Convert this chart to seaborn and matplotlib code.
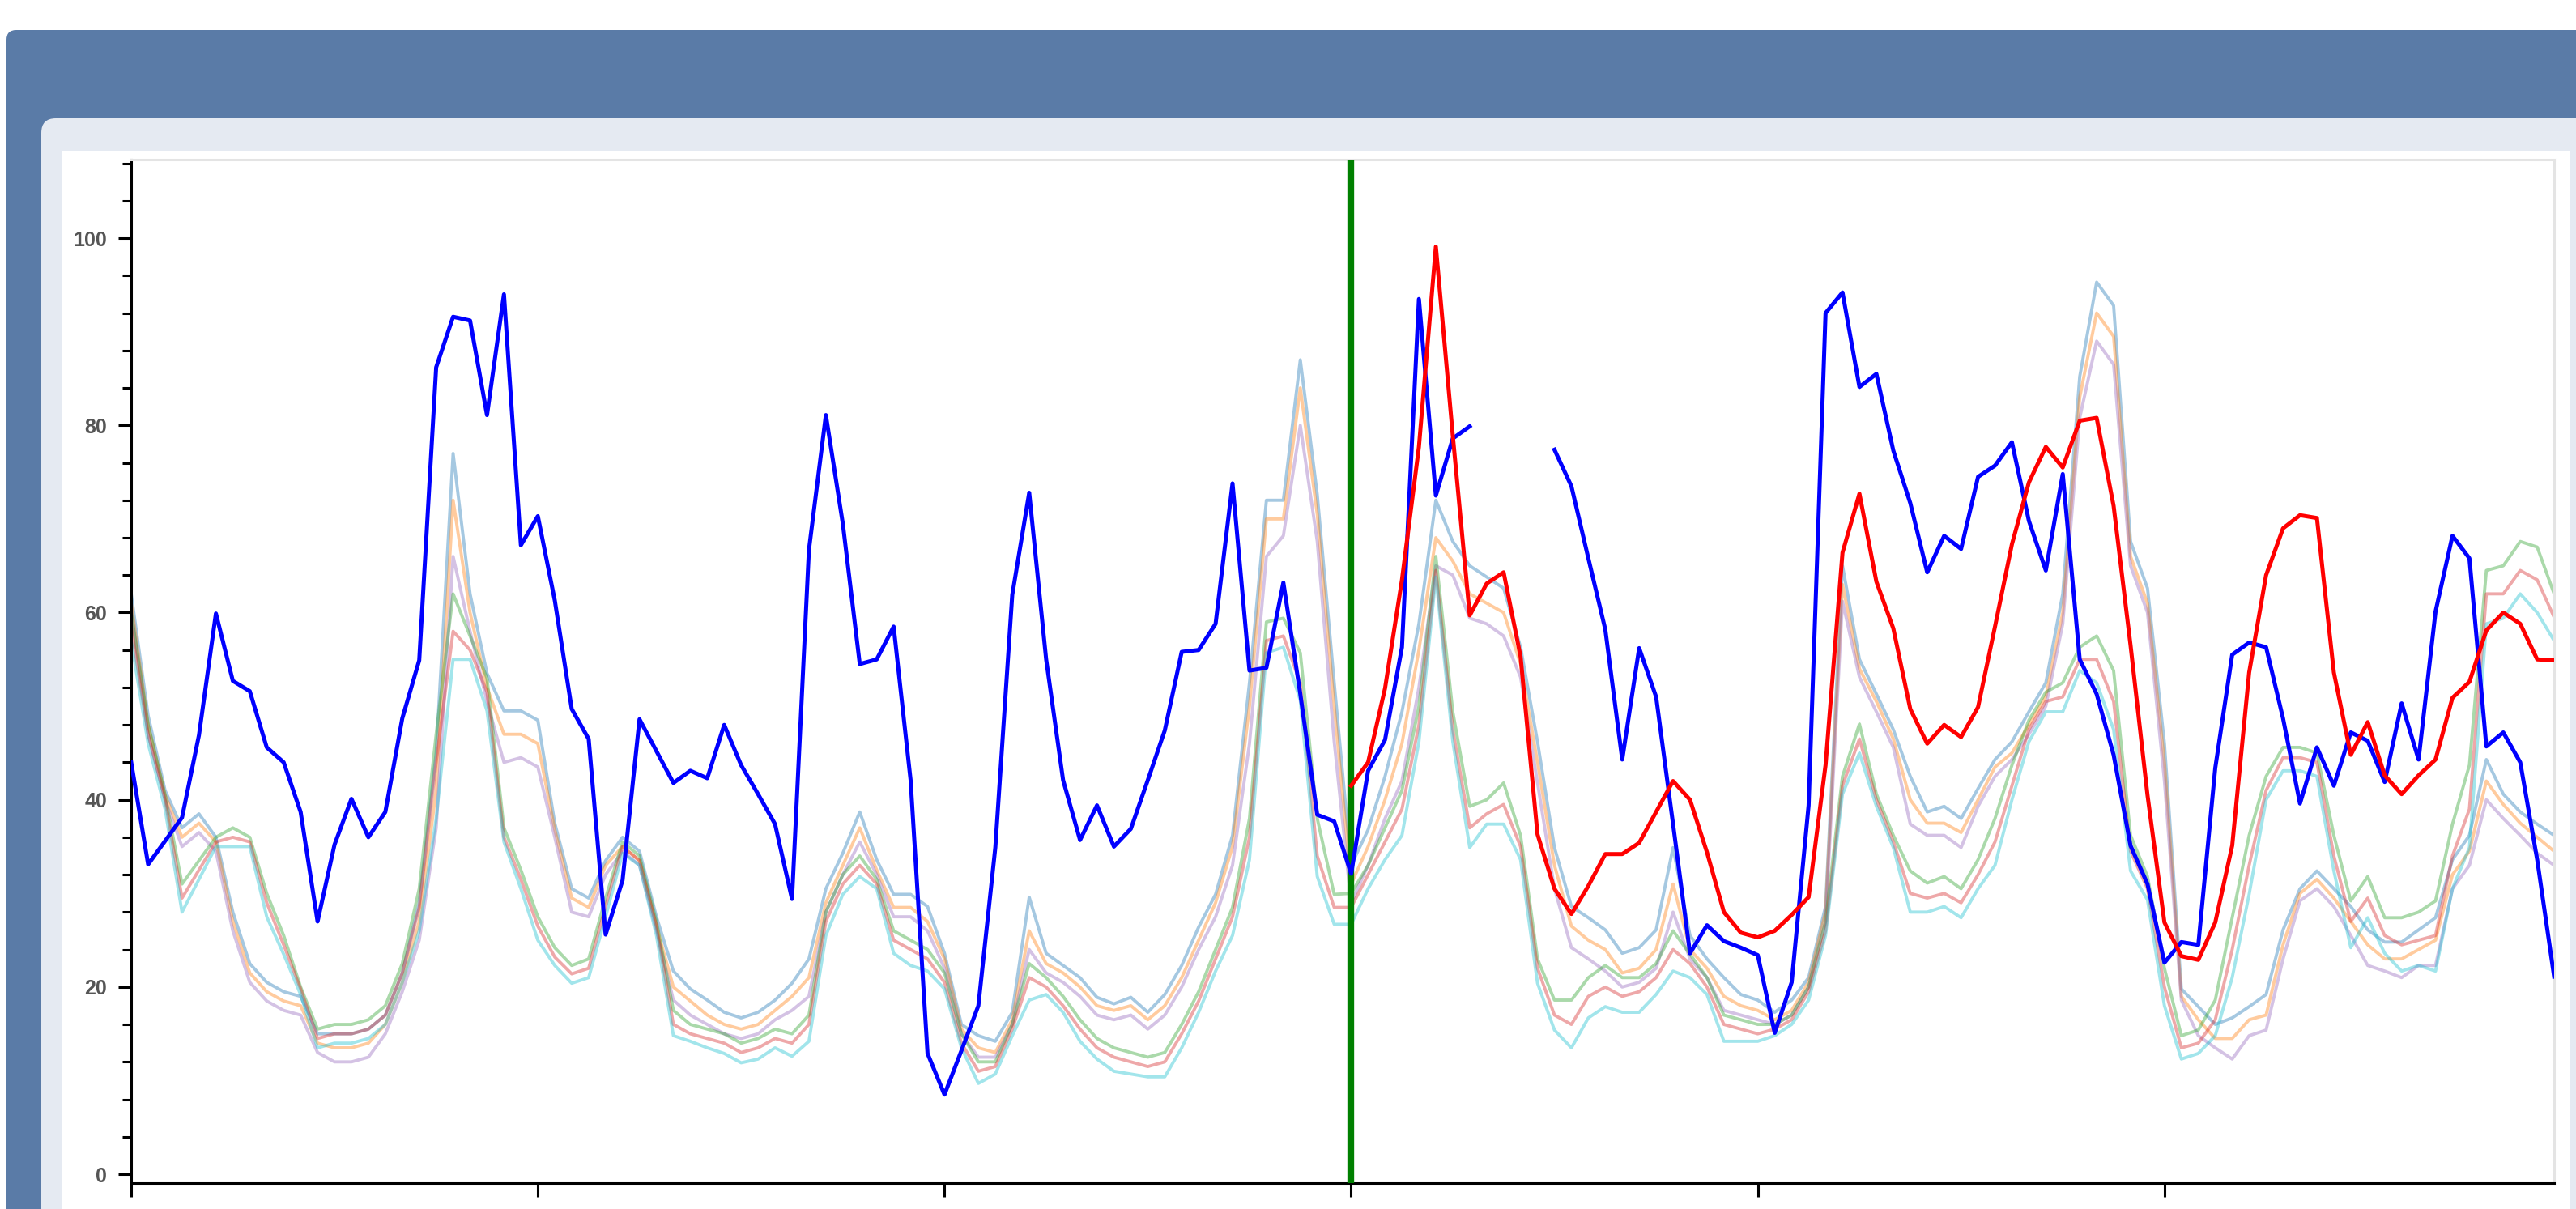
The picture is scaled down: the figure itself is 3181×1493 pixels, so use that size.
import numpy as np
import pandas as pd
import matplotlib
matplotlib.use("Agg")
import matplotlib.pyplot as plt
from matplotlib.patches import FancyBboxPatch, Rectangle
from matplotlib.transforms import IdentityTransform
from matplotlib.ticker import MultipleLocator
import seaborn as sns

# hourly values, hour 0 .. 143
observed = [
    44.0, 33.1, 35.6, 38.1, 46.9, 59.9, 52.7, 51.6, 45.6, 44.0,
    38.7, 27.0, 35.2, 40.1, 36.0, 38.7, 48.7, 54.9, 86.2, 91.6,
    91.2, 81.1, 94.0, 67.2, 70.3, 61.3, 49.7, 46.5, 25.6, 31.4,
    48.6, 45.2, 41.8, 43.1, 42.3, 48.0, 43.7, 40.6, 37.4, 29.4,
    66.7, 81.1, 69.5, 54.5, 55.0, 58.5, 42.1, 12.9, 8.5, 13.2,
    18.0, 34.9, 61.9, 72.8, 55.0, 42.1, 35.7, 39.4, 35.0, 36.9,
    42.1, 47.4, 55.8, 56.0, 58.8, 73.8, 53.8, 54.1, 63.2, 51.3,
    38.4, 37.7, 32.1, 43.1, 46.4, 56.3, 93.5, 72.5, 78.6, 79.9,
    np.nan, np.nan, np.nan, np.nan, 77.4, 73.5, 65.8, 58.2, 44.3, 56.2,
    51.0, 37.4, 23.6, 26.6, 24.9, 24.2, 23.4, 15.1, 20.5, 39.4,
    92.0, 94.2, 84.1, 85.5, 77.3, 71.7, 64.3, 68.2, 66.8, 74.5,
    75.7, 78.2, 69.8, 64.5, 74.8, 55.0, 51.3, 44.8, 35.1, 31.0,
    22.6, 24.8, 24.5, 43.4, 55.5, 56.8, 56.3, 48.7, 39.6, 45.6,
    41.5, 47.2, 46.3, 41.9, 50.3, 44.3, 60.1, 68.2, 65.8, 45.7,
    47.2, 44.0, 33.6, 21.1,
]

# forecast, hour 72 .. 143
forecast = [
    41.5, 44.0, 51.9, 63.5, 77.7, 99.1, 78.9, 59.7,
    63.1, 64.3, 55.3, 36.3, 30.5, 27.8, 30.8, 34.2, 34.2, 35.4,
    38.7, 42.0, 40.0, 34.4, 28.0, 25.8, 25.3, 26.0, 27.7, 29.6,
    43.7, 66.4, 72.7, 63.3, 58.3, 49.7, 46.0, 48.0, 46.7, 49.9,
    58.5, 67.3, 73.9, 77.7, 75.5, 80.5, 80.8, 71.4, 56.5, 40.5,
    26.9, 23.3, 22.9, 26.9, 35.1, 53.6, 64.0, 69.0, 70.4, 70.1,
    53.6, 44.8, 48.3, 42.6, 40.6, 42.6, 44.3, 50.9, 52.6, 58.1,
    60.0, 58.8, 55.0, 54.9,
]

# ensemble members, hour 0 .. 143
member_a = [
    62, 49, 41, 37, 38.5, 36, 28, 22.5, 20.5, 19.5,
    19, 15, 15, 15, 15.5, 17, 21.5, 29, 45, 77,
    62, 53.5, 49.5, 49.5, 48.5, 37.5, 30.5, 29.5, 33.5, 36,
    34.5, 27.5, 21.7, 19.8, 18.6, 17.3, 16.7, 17.3, 18.6, 20.4,
    23, 30.5, 34.3, 38.7, 33.6, 29.9, 29.9, 28.6, 23.6, 16,
    14.8, 14.2, 17.3, 29.6, 23.6, 22.3, 21, 18.9, 18.2, 18.9,
    17.3, 19.2, 22.3, 26.4, 29.9, 36.2, 52.5, 72, 72, 87,
    72.6, 52.5, 33, 36.8, 42.5, 49.4, 58.8, 72, 67.6, 65,
    63.8, 62.6, 56.3, 46.2, 34.9, 28.6, 27.4, 26.1, 23.6, 24.2,
    26.1, 34.9, 25.5, 23, 21, 19.2, 18.6, 17.3, 18.6, 21,
    28.6, 65, 55, 51.3, 47.5, 42.5, 38.7, 39.3, 38, 41.2,
    44.3, 46.2, 49.4, 52.5, 62, 85.2, 95.3, 92.8, 67.6, 62.6,
    46, 19.8, 17.9, 16, 16.7, 17.9, 19.2, 26.1, 30.5, 32.4,
    30.5, 28.6, 26.1, 24.8, 24.8, 26.1, 27.4, 33.6, 36.2, 44.3,
    40.6, 38.7, 37.4, 36.2,
]
member_b = [
    61, 48, 40.5, 36, 37.5, 35.5, 27, 21.5, 19.5, 18.5,
    18, 14, 13.5, 13.5, 14, 16, 20.5, 27, 41, 72,
    60, 52, 47, 47, 46, 36.8, 29.5, 28.5, 33, 35,
    33.5, 26.5, 20, 18.5, 17, 16, 15.5, 16, 17.5, 19,
    21, 29, 33, 37, 32.5, 28.5, 28.5, 27, 23, 15.5,
    13.5, 13, 16.5, 26, 22.5, 21.5, 20, 18, 17.5, 18,
    16.5, 18, 21, 25, 29, 35, 50, 70, 70, 84,
    70.5, 50, 31, 35, 40, 46, 56, 68, 65.5, 62,
    61, 60, 54.5, 44, 33, 26.5, 25, 24, 21.5, 22,
    24, 31, 24, 22, 19, 18, 17.5, 16.5, 17.5, 20.5,
    28, 63, 54, 50.5, 46.5, 40, 37.5, 37.5, 36.5, 40,
    43.5, 45, 48, 51, 60, 83, 92, 89.5, 66, 61,
    44, 19, 16.5, 14.5, 14.5, 16.5, 17, 24.5, 30, 31.5,
    29.5, 27, 24.5, 23, 23, 24, 25, 32, 34.5, 42,
    39.5, 37.5, 36, 34.5,
]
member_c = [
    60, 47, 40, 35, 36.5, 34.5, 26, 20.5, 18.5, 17.5,
    17, 13, 12, 12, 12.5, 15, 19.5, 25, 37, 66,
    58, 50.5, 44, 44.5, 43.5, 36, 28, 27.5, 32, 34.5,
    33, 26, 18.6, 17, 16, 15, 14.5, 15, 16.5, 17.5,
    19, 28, 32, 35.5, 32, 27.5, 27.5, 26, 22, 15,
    12.5, 12.5, 16, 24, 21.5, 20.5, 19, 17, 16.5, 17,
    15.5, 17, 20, 24, 27.5, 33, 46, 66, 68.2, 80,
    67.6, 46.2, 29, 33, 38, 42, 52, 65, 64, 59.4,
    58.8, 57.5, 53.1, 41.8, 30.5, 24.2, 23, 21.7, 20, 20.5,
    22, 28, 23, 21, 17.5, 17, 16.5, 16, 17, 20,
    27, 61.2, 53.1, 49.4, 45.6, 37.4, 36.2, 36.2, 34.9, 39.3,
    42.5, 44.3, 47, 50, 58.8, 80.8, 89, 86.5, 65, 60,
    42, 18.6, 14.8, 13.5, 12.3, 14.8, 15.4, 23, 29.2, 30.5,
    28.6, 25.5, 22.3, 21.7, 21, 22.3, 22.3, 30.5, 33, 40,
    38, 36.2, 34.3, 33,
]
member_d = [
    60, 48, 40.5, 31, 33.5, 36, 37, 36, 30, 25.5,
    20, 15.5, 16, 16, 16.5, 18, 22.5, 30.5, 47, 62,
    57.5, 53, 37, 32.5, 27.5, 24.2, 22.3, 23, 29.5, 35.5,
    34, 27, 17.5, 16, 15.5, 15, 14, 14.5, 15.5, 15,
    17, 28, 32, 34, 31.5, 26, 25, 24, 21.5, 15,
    12, 12, 16, 22.5, 21, 19, 16.5, 14.5, 13.5, 13,
    12.5, 13, 16, 19.5, 24, 28.5, 38, 59, 59.4, 55.7,
    38, 29.9, 30, 33, 37, 41, 50, 66, 49.4, 39.3,
    40, 41.8, 36.2, 23, 18.6, 18.6, 21, 22.3, 21, 21,
    22.5, 26, 23.5, 21, 17, 16.5, 16, 16, 17, 20,
    27, 42.5, 48.1, 40.6, 36.2, 32.4, 31.1, 31.8, 30.5, 33.6,
    38, 43.7, 48.5, 51.5, 52.5, 56.3, 57.5, 53.8, 36.2, 31.8,
    22, 14.8, 15.4, 18.6, 27.4, 36.2, 42.5, 45.6, 45.6, 45,
    36.2, 29.2, 31.8, 27.4, 27.4, 28, 29.2, 37.4, 43.7, 64.5,
    65, 67.6, 67, 62,
]
member_e = [
    58.5, 47, 40, 29.5, 32.5, 35.5, 36, 35.5, 29, 24.5,
    19.8, 14.5, 15, 15, 15.5, 17, 21.5, 28.5, 44, 58,
    56, 51.5, 36, 31.5, 26.5, 23.2, 21.4, 22, 28.6, 35,
    33.5, 26.5, 16, 15, 14.5, 14, 13, 13.5, 14.5, 14,
    16, 27, 31, 33, 31, 25, 24, 23, 20.5, 14,
    11, 11.5, 15.5, 21, 20, 18, 15.5, 13.5, 12.5, 12,
    11.5, 12, 15, 18.5, 23, 27.5, 36, 57, 57.5, 52.5,
    34, 28.5, 28.5, 32, 35.5, 39, 48, 64.5, 47.5, 37,
    38.5, 39.5, 35, 22, 17, 16, 19, 20, 19, 19.5,
    21, 24, 22.5, 20, 16, 15.5, 15, 15.5, 16.5, 19.5,
    26, 41.5, 46.5, 40, 35.5, 30, 29.5, 30, 29, 32,
    35.5, 41.5, 47.5, 50.5, 51, 55, 55, 50.5, 34.5, 30.5,
    20, 13.5, 14, 16.5, 24, 33, 41, 44.5, 44.5, 44,
    34, 27, 29.5, 25.5, 24.5, 25, 25.5, 34, 39, 62,
    62, 64.5, 63.5, 59.5,
]
member_f = [
    57, 46, 39, 28, 31.5, 35, 35, 35, 27.5, 23.5,
    19.2, 13.5, 14, 14, 14.5, 16, 20.5, 26, 38, 55,
    55, 49.5, 35.5, 30.5, 25, 22.3, 20.4, 21, 27.5, 34.3,
    33, 25.5, 14.8, 14.2, 13.5, 12.9, 11.9, 12.3, 13.5, 12.6,
    14.2, 25.5, 29.9, 31.8, 30.5, 23.6, 22.3, 21.7, 19.8, 13.5,
    9.7, 10.7, 14.8, 18.6, 19.2, 17.3, 14.2, 12.3, 11, 10.7,
    10.4, 10.4, 13.5, 17.3, 21.7, 25.5, 33.6, 55.7, 56.3, 50.6,
    31.8, 26.7, 26.7, 30.5, 33.6, 36.2, 46.2, 63.8, 46.2, 34.9,
    37.4, 37.4, 33.6, 20.4, 15.4, 13.5, 16.7, 17.9, 17.3, 17.3,
    19.2, 21.7, 21, 19.2, 14.2, 14.2, 14.2, 14.8, 16, 18.6,
    25.5, 40.6, 45, 39.3, 34.9, 28, 28, 28.6, 27.4, 30.5,
    33, 40, 46.2, 49.4, 49.4, 53.8, 52.5, 47.5, 32.4, 29.3,
    18, 12.3, 12.9, 14.8, 21, 29.9, 40, 43.1, 43.1, 42.5,
    32.4, 24.2, 27.4, 23.6, 21.7, 22.3, 21.7, 30.5, 34.9, 58.8,
    59.4, 62, 60, 57,
]

hours = np.arange(len(observed))
forecast_hours = np.arange(72, 72 + len(forecast))
forecast_start = 72
x_ticks = [0, 24, 48, 72, 96, 120]
y_ticks = [0, 20, 40, 60, 80, 100]

members = {"a": member_a, "b": member_b, "c": member_c,
           "d": member_d, "e": member_e, "f": member_f}
ens = pd.concat([pd.DataFrame({"hour": hours, "value": v, "member": k})
                 for k, v in members.items()], ignore_index=True)

plt.rcParams["font.family"] = ["Liberation Sans", "DejaVu Sans"]

W, H = 3181, 1493
fig = plt.figure(figsize=(W / 100, H / 100), dpi=100)
fig.patch.set_facecolor("white")

# page chrome: blue header, grey panel, white card
px = IdentityTransform()
fig.add_artist(FancyBboxPatch((8, -60), W + 60, H - 37 + 60, transform=px,
                              boxstyle="round,pad=0,rounding_size=12",
                              fc="#5a7ba7", ec="none", zorder=-10))
fig.add_artist(FancyBboxPatch((51, -60), W + 60, H - 146 + 60, transform=px,
                              boxstyle="round,pad=0,rounding_size=18",
                              fc="#e5eaf2", ec="none", zorder=-9))
fig.add_artist(Rectangle((77, -60), 3173 - 77, H - 187 + 60, transform=px,
                         fc="white", ec="none", zorder=-8))

ax = fig.add_axes([162 / W, (H - 1461) / H, (3154 - 162) / W, (1461 - 197) / H])
ax.set_facecolor("white")

pal = sns.color_palette("tab10")
ens_colors = [pal[0], pal[1], pal[4], pal[2], pal[3], pal[9]]
sns.lineplot(data=ens, x="hour", y="value", hue="member", palette=ens_colors,
             estimator=None, legend=False, linewidth=2.8, alpha=0.4, ax=ax, zorder=2)

ax.axvline(forecast_start, color="green", linewidth=6, zorder=3)

obs = pd.DataFrame({"hour": hours, "value": observed})
gap = obs["value"].isna()
first = obs[:gap.idxmax()]
second = obs[gap[::-1].idxmax() + 1:]
for seg in (first, second):
    sns.lineplot(data=seg, x="hour", y="value", color="blue", linewidth=3.6,
                 ax=ax, zorder=4)
sns.lineplot(x=forecast_hours, y=forecast, color="red", linewidth=3.6, ax=ax, zorder=5)

ax.set_xlim(0, 143)
ax.set_ylim(-0.95, 108.4)
ax.set_xlabel("")
ax.set_ylabel("")

ax.set_xticks(x_ticks)
ax.set_xticklabels([])
ax.set_yticks(y_ticks)
ax.set_yticklabels([str(t) for t in y_ticks])
ax.yaxis.set_minor_locator(MultipleLocator(4))

ax.tick_params(axis="x", which="major", direction="out", length=12, width=2.2, color="black")
ax.tick_params(axis="y", which="major", direction="out", length=11.5, width=2.2,
               color="black", pad=10, labelsize=18, labelcolor="#555555")
ax.tick_params(axis="y", which="minor", direction="out", length=8, width=2.2, color="black")
for lab in ax.get_yticklabels():
    lab.set_fontweight("bold")

for side in ("left", "bottom"):
    ax.spines[side].set_color("black")
    ax.spines[side].set_linewidth(2.2)
for side in ("top", "right"):
    ax.spines[side].set_color("#e4e4e4")
    ax.spines[side].set_linewidth(2.2)

fig.savefig("out.png", dpi=100)
